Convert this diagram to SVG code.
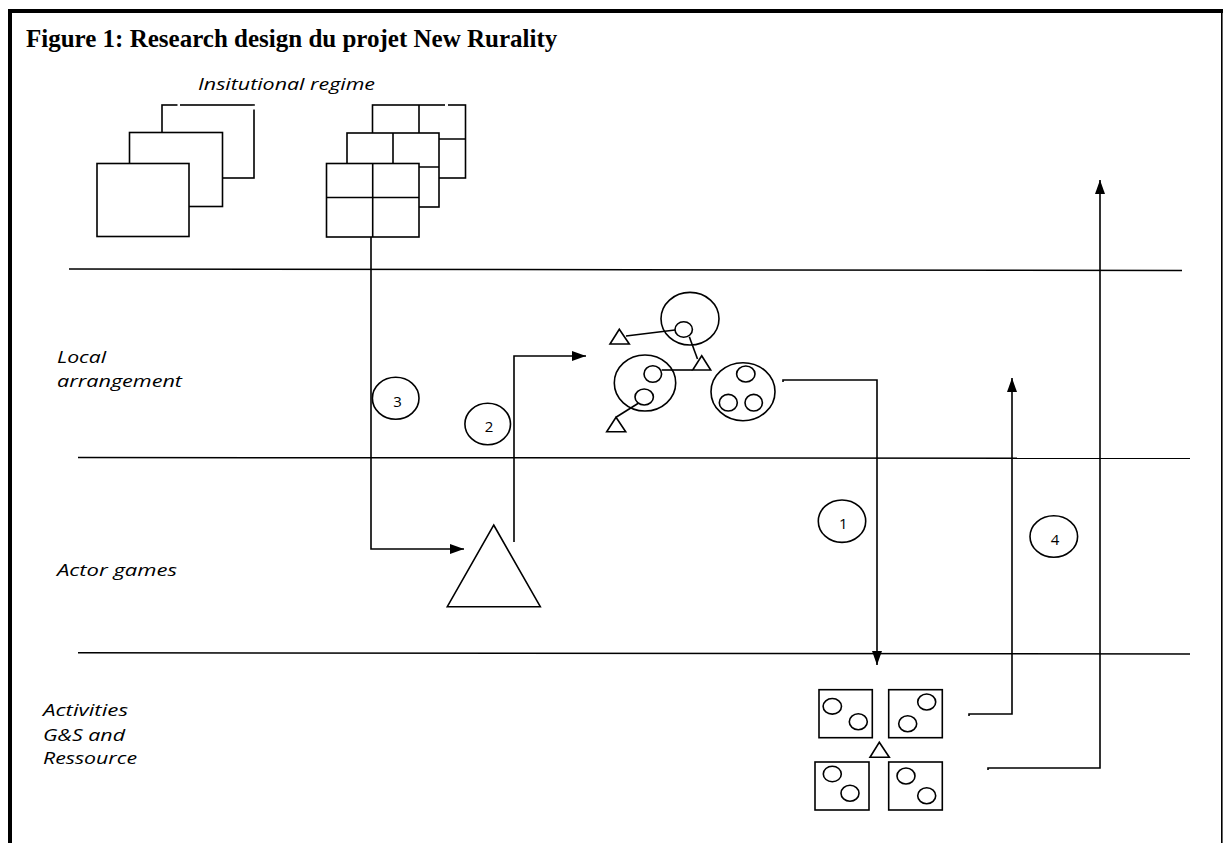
<svg xmlns="http://www.w3.org/2000/svg" width="1223" height="843" viewBox="0 0 1223 843">
<defs>
<style>
.s{fill:none;stroke:#000;stroke-width:1.6}
.w{fill:#fff;stroke:#000;stroke-width:1.6}
.gap{fill:none;stroke:#fff;stroke-width:2.4}
.sep{fill:none;stroke:#000;stroke-width:1.5}
.lbl{font-family:"Open Sans","Noto Sans",sans-serif;font-style:italic;font-size:16px;fill:#000}
.num{font-family:"Open Sans","Noto Sans",sans-serif;font-size:15px;fill:#000;text-anchor:middle}
.title{font-family:"Liberation Serif","Times New Roman",serif;font-weight:bold;font-size:25px;fill:#000}
</style>
<marker id="ah" markerUnits="userSpaceOnUse" markerWidth="14" markerHeight="10" refX="14" refY="5" orient="auto" viewBox="0 0 14 10">
<path d="M0,0 L14,5 L0,10 z" fill="#000"/>
</marker>
</defs>
<rect x="0" y="0" width="1223" height="843" fill="#fff"/>
<g id="frame">
<rect x="8" y="9" width="1215" height="4" fill="#000"/>
<rect x="8" y="9" width="4" height="834" fill="#000"/>
<rect x="1221" y="9" width="1.6" height="834" fill="#000"/>
</g>
<text class="title" x="26" y="47">Figure 1: Research design du projet New Rurality</text>
<g id="layers">
<path class="sep" d="M69,269 L1182,270.5"/>
<path class="sep" d="M78,457.5 L1190,458.3"/>
<path class="sep" d="M78,652.7 L1190,654"/>
</g>
<g id="labels">
<text class="lbl" x="198" y="90" textLength="177" lengthAdjust="spacingAndGlyphs">Insitutional regime</text>
<text class="lbl" x="57" y="363" textLength="49" lengthAdjust="spacingAndGlyphs">Local</text>
<text class="lbl" x="57" y="387" textLength="125" lengthAdjust="spacingAndGlyphs">arrangement</text>
<text class="lbl" x="57" y="576" textLength="120" lengthAdjust="spacingAndGlyphs">Actor games</text>
<text class="lbl" x="43" y="716" textLength="85" lengthAdjust="spacingAndGlyphs">Activities</text>
<text class="lbl" x="43" y="741" textLength="82" lengthAdjust="spacingAndGlyphs">G&amp;S and</text>
<text class="lbl" x="43" y="764" textLength="94" lengthAdjust="spacingAndGlyphs">Ressource</text>
</g>
<g id="regime-stack">
<rect class="w" x="162" y="105" width="92" height="73"/>
<path class="gap" d="M177.5,105 H180 M254,105.8 V109.5"/>
<rect class="w" x="129.5" y="132.5" width="93" height="74"/>
<rect class="w" x="97" y="163.5" width="92" height="73"/>
</g>
<g id="regime-grid">
<rect class="w" x="372.5" y="105" width="93" height="73"/>
<path class="s" d="M419,105 V178 M372.5,139 H465.5"/>
<path class="gap" d="M445,105 H448"/>
<rect class="w" x="347" y="133" width="92" height="74"/>
<path class="s" d="M393,133 V207 M347,167 H439"/>
<rect class="w" x="326.5" y="163.5" width="92.5" height="73.5"/>
<path class="s" d="M372.7,163.5 V237 M326.5,197.5 H419"/>
</g>
<g id="local-arrangement">
<ellipse class="s" cx="690" cy="318.7" rx="29" ry="26.3"/>
<ellipse class="s" cx="645" cy="383" rx="30.7" ry="28"/>
<ellipse class="s" cx="743" cy="391.7" rx="32" ry="29"/>
<path class="s" d="M675,330 L626,336"/>
<path class="s" d="M689.3,336.7 L697.5,359"/>
<path class="s" d="M661.7,370 H692.7"/>
<path class="s" d="M638.3,403.3 L616,417.3"/>
<ellipse class="w" cx="683.7" cy="329.5" rx="8.7" ry="7.8"/>
<ellipse class="w" cx="652.8" cy="374" rx="8.8" ry="8.2"/>
<ellipse class="w" cx="644.2" cy="397" rx="9.2" ry="8"/>
<ellipse class="w" cx="745.8" cy="374" rx="9.2" ry="8"/>
<ellipse class="w" cx="728.3" cy="402.7" rx="9" ry="8.3"/>
<ellipse class="w" cx="753.7" cy="402.7" rx="8.7" ry="8.3"/>
<polygon class="w" points="619.3,329.3 629.3,344 610,344"/>
<polygon class="w" points="701.7,355.7 710.7,370 692.7,370"/>
<polygon class="w" points="616,417.3 625.7,431.7 606.7,431.7"/>
</g>
<g id="actor">
<polygon class="w" points="493.7,525 540.3,606.7 447.3,606.7"/>
</g>
<g id="activities">
<rect class="w" x="819" y="689.7" width="53.3" height="48"/>
<ellipse class="s" cx="832.3" cy="706.3" rx="9.2" ry="7.8"/>
<ellipse class="s" cx="858.3" cy="721.7" rx="9" ry="8"/>
<rect class="w" x="888.7" y="689.7" width="53.6" height="48"/>
<ellipse class="s" cx="926.7" cy="702" rx="9" ry="8"/>
<ellipse class="s" cx="907.7" cy="723.7" rx="9" ry="8"/>
<polygon class="w" points="879.3,742.3 889.3,757.3 870,757.3"/>
<rect class="w" x="815" y="762" width="54" height="48"/>
<ellipse class="s" cx="832.3" cy="774" rx="9" ry="7.8"/>
<ellipse class="s" cx="850" cy="793.3" rx="9" ry="8"/>
<rect class="w" x="888.7" y="762" width="53.6" height="48"/>
<ellipse class="s" cx="906" cy="776" rx="9" ry="8"/>
<ellipse class="s" cx="926.7" cy="795.7" rx="9" ry="8"/>
</g>
<g id="connectors">
<path class="s" d="M371,237 V549 H464" marker-end="url(#ah)"/>
<path class="s" d="M514,542 V356 H586" marker-end="url(#ah)"/>
<path class="s" d="M783,382 V380 H877 V665" marker-end="url(#ah)"/>
<path class="s" d="M969,716 V714 H1012 V378" marker-end="url(#ah)"/>
<path class="s" d="M988,770 V768 H1100 V180" marker-end="url(#ah)"/>
</g>
<g id="step-3"><ellipse class="s" cx="395.7" cy="398.3" rx="23.3" ry="21"/><text class="num" x="397.5" y="406.5">3</text></g>
<g id="step-2"><ellipse class="s" cx="487.7" cy="424" rx="22.8" ry="20.8"/><text class="num" x="489" y="432">2</text></g>
<g id="step-1"><ellipse class="s" cx="842" cy="521.2" rx="23.7" ry="21.2"/><text class="num" x="843.3" y="528.5">1</text></g>
<g id="step-4"><ellipse class="s" cx="1053.8" cy="536.5" rx="23.8" ry="20.8"/><text class="num" x="1055" y="545">4</text></g>
</svg>
